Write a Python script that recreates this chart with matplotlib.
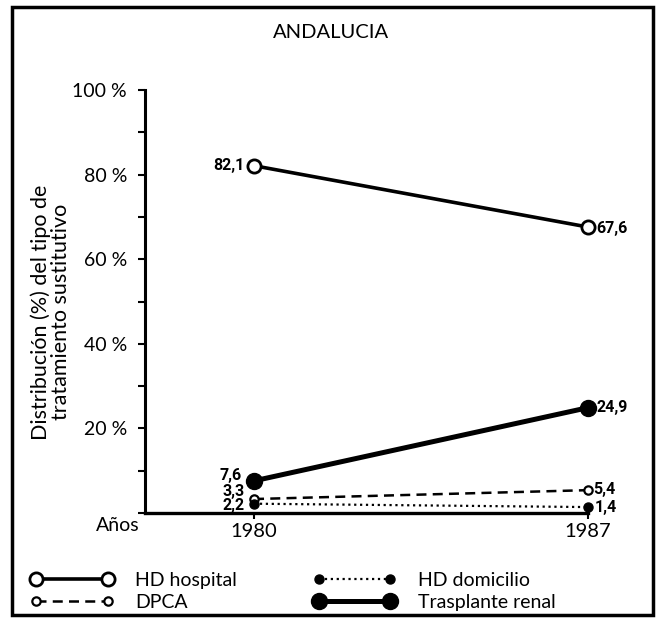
import matplotlib
matplotlib.use("Agg")
import matplotlib.pyplot as plt
from matplotlib.patches import Rectangle

plt.rcParams['font.family'] = ['Lato', 'DejaVu Sans']

years = [1980, 1987]
hd_hospital = [82.1, 67.6]
dpca = [3.3, 5.4]
hd_domicilio = [2.2, 1.4]
trasplante = [7.6, 24.9]
series_names = ["HD hospital", "DPCA", "HD domicilio", "Trasplante renal"]
yticks = [0, 20, 40, 60, 80, 100]
ytick_labels = ["", "20 %", "40 %", "60 %", "80 %", "100 %"]
title = "ANDALUCIA"
ylabel = "Distribución (%) del tipo de\ntratamiento sustitutivo"
xlabel = "Años"

def fmt(v):
    return f"{v:.1f}".replace(".", ",")

W, H = 656, 619
fig = plt.figure(figsize=(W / 100, H / 100), dpi=100)
ax = fig.add_axes([145 / W, 106 / H, 475 / W, 423 / H])
xmin, xmax = 1977.715, 1987.67
ax.set_xlim(xmin, xmax)
ax.set_ylim(0, 100)

for s in ['top', 'right']:
    ax.spines[s].set_visible(False)
ax.spines['left'].set_linewidth(2.2)
ax.spines['bottom'].set_linewidth(2.4)
ax.spines['bottom'].set_bounds(xmin, 1987)
ax.spines['left'].set_bounds(0, 100)

ax.set_yticks(yticks)
ax.set_yticklabels(ytick_labels)
ax.set_yticks([10, 30, 50, 70, 90], minor=True)
ax.tick_params(axis='y', which='both', direction='out', length=5, width=1.5, pad=8, labelsize=14)
ax.set_xticks(years)
ax.set_xticklabels([str(y) for y in years])
ax.tick_params(axis='x', direction='out', length=4, width=1.5, pad=3, labelsize=14.5)

h1, = ax.plot(years, hd_hospital, '-', color='black', lw=2.6, marker='o', ms=9.5,
              mfc='white', mec='black', mew=2.0, clip_on=False, zorder=3)
h2, = ax.plot(years, dpca, '--', color='black', lw=1.8, dashes=(4, 2.5), marker='o', ms=6,
              mfc='white', mec='black', mew=1.6, clip_on=False, zorder=3)
h3, = ax.plot(years, hd_domicilio, ':', color='black', lw=1.6, marker='o', ms=6.5,
              mfc='black', mec='black', clip_on=False, zorder=3)
h4, = ax.plot(years, trasplante, '-', color='black', lw=3.6, marker='o', ms=11.5,
              mfc='black', mec='black', clip_on=False, zorder=4)

lab_font = dict(fontsize=11.5, fontweight='bold', family=['Roboto', 'DejaVu Sans'])
left_offsets = [(-7, 0), (-7, 5.5), (-7, -1), (-9, 3.5)]
right_offsets = [(6, -1), (4, 0.5), (5, -0.5), (6, 0)]
for vals, lo, ro in zip([hd_hospital, dpca, hd_domicilio, trasplante], left_offsets, right_offsets):
    ax.annotate(fmt(vals[0]), (years[0], vals[0]), xytext=lo, textcoords='offset points',
                ha='right', va='center', **lab_font)
    ax.annotate(fmt(vals[1]), (years[1], vals[1]), xytext=ro, textcoords='offset points',
                ha='left', va='center', **lab_font)

ax.text(-0.057, -0.03, xlabel, transform=ax.transAxes, ha='center', va='center', fontsize=14)
fig.text(51 / W, 1 - 312 / H, ylabel, rotation=90, ha='center', va='center', fontsize=15.5,
         linespacing=1.0)
fig.text(331 / W, 1 - 33 / H, title, ha='center', va='center', fontsize=14.5)

fs = 14
fig.legend([h1, h2, h3, h4], series_names, loc='upper left',
           bbox_to_anchor=(30 / W, 1 - 572 / H), ncol=2, numpoints=2, frameon=False,
           handlelength=4.3, handletextpad=1.1, columnspacing=3.9, fontsize=fs,
           labelspacing=0.25, borderpad=0, borderaxespad=0)

fig.add_artist(Rectangle((12 / W, 4 / H), 641 / W, 608 / H, transform=fig.transFigure,
                         fill=False, edgecolor='black', lw=2.5))

fig.savefig("out.png", dpi=100)
